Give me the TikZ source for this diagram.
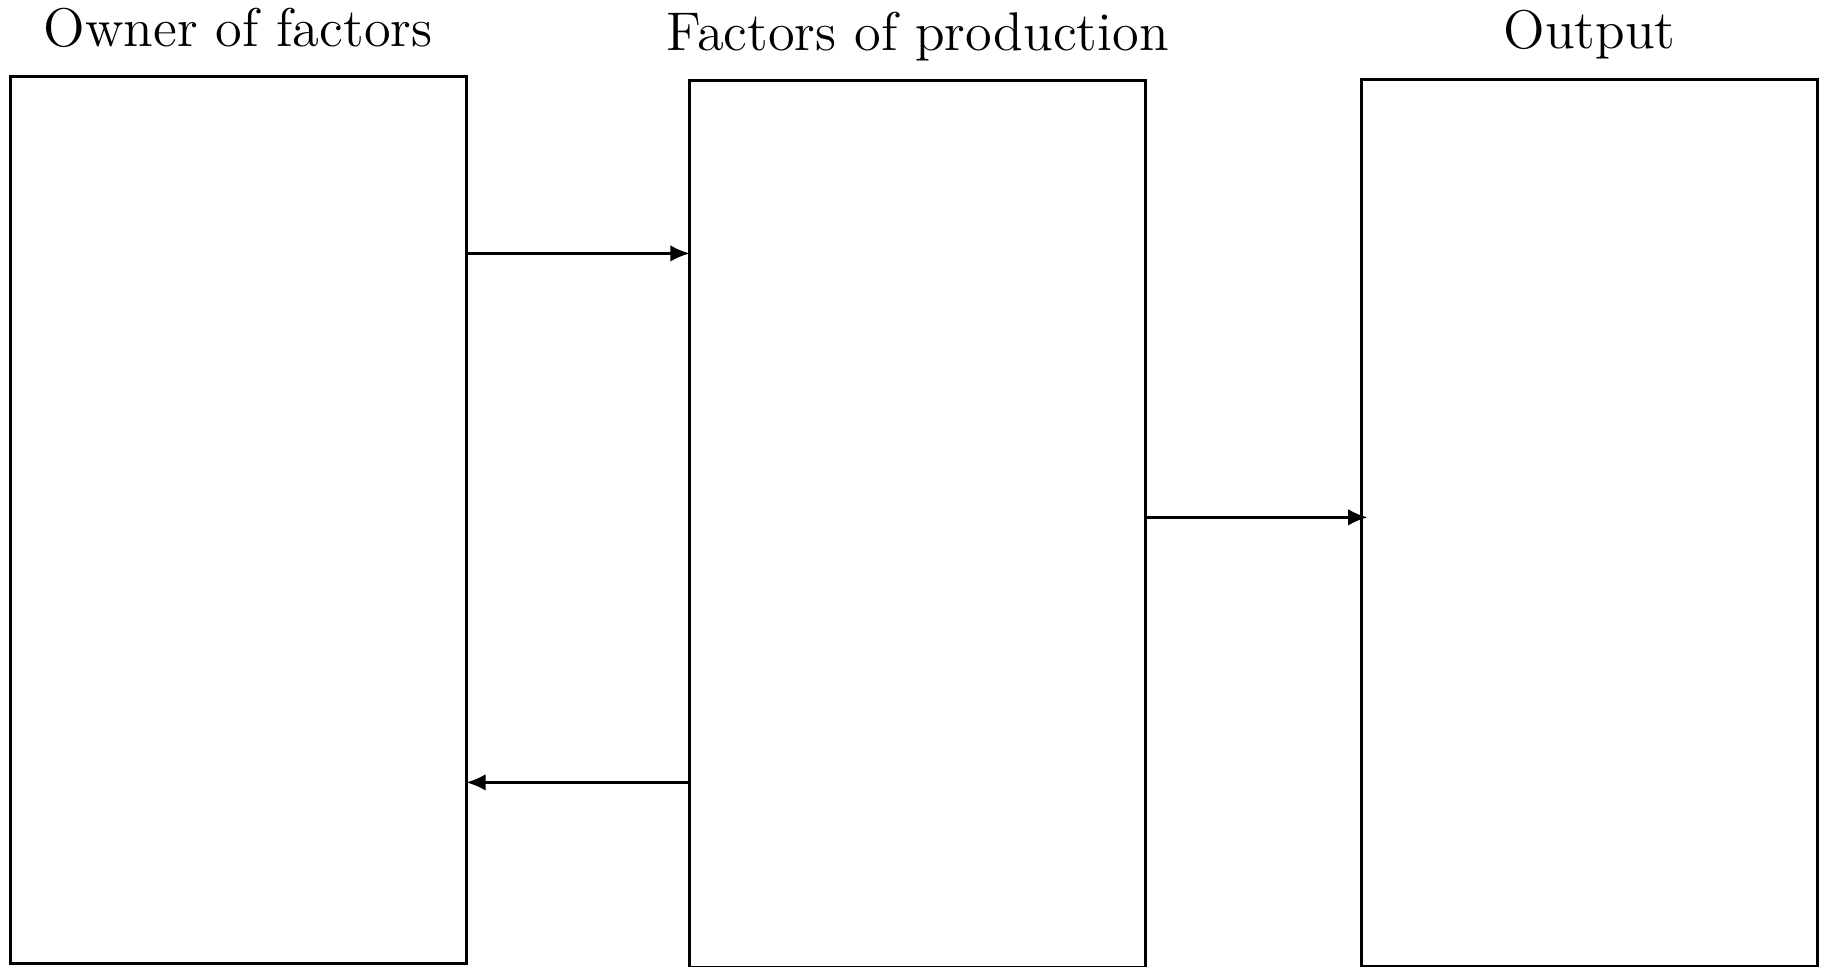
\documentclass[tikz,border=0pt]{standalone}
\usepackage{tikz}
\usetikzlibrary{arrows.meta, positioning}

\begin{document}
\begin{tikzpicture}[
    node distance=1.93cm,
    panel/.style={
        rectangle, draw, line width=0.7pt, minimum width=4cm,
        minimum height=7.78cm, inner sep=0pt, outer sep=0pt
    },
    heading/.style={
        anchor=base, inner sep=0pt, font=\fontsize{13.6}{16}\selectfont
    },
    arrow/.style={line width=0.6pt, -{Latex[length=0.17cm, width=0.145cm]}}
]
\useasboundingbox (0,0) rectangle (15.991,8.474);

%% Boxes
\node (owner)   [panel] at (2.09,3.91) {};
\node (factors) [panel, right=1.96cm of owner, yshift=-0.03cm] {};
\node (output)  [panel, right=1.895cm of factors, yshift=0.01cm] {};

%% Headings
\node (ownertitle)   [heading] at ([yshift=0.265cm]owner.north)   {Owner of factors};
\node (factorstitle) [heading] at ([yshift=0.265cm]factors.north) {Factors of production};
\node (outputtitle)  [heading] at ([yshift=0.265cm]output.north)  {Output};

%% Arrows
\draw [arrow] ([yshift=2.341cm]owner.east) -- ([yshift=2.371cm]factors.west);
\draw [arrow] ([yshift=0.056cm]factors.east) -- ([xshift=0.05cm, yshift=0.046cm]output.west);
\draw [arrow] ([yshift=-2.269cm]factors.west) -- ([yshift=-2.299cm]owner.east);

\end{tikzpicture}
\end{document}
